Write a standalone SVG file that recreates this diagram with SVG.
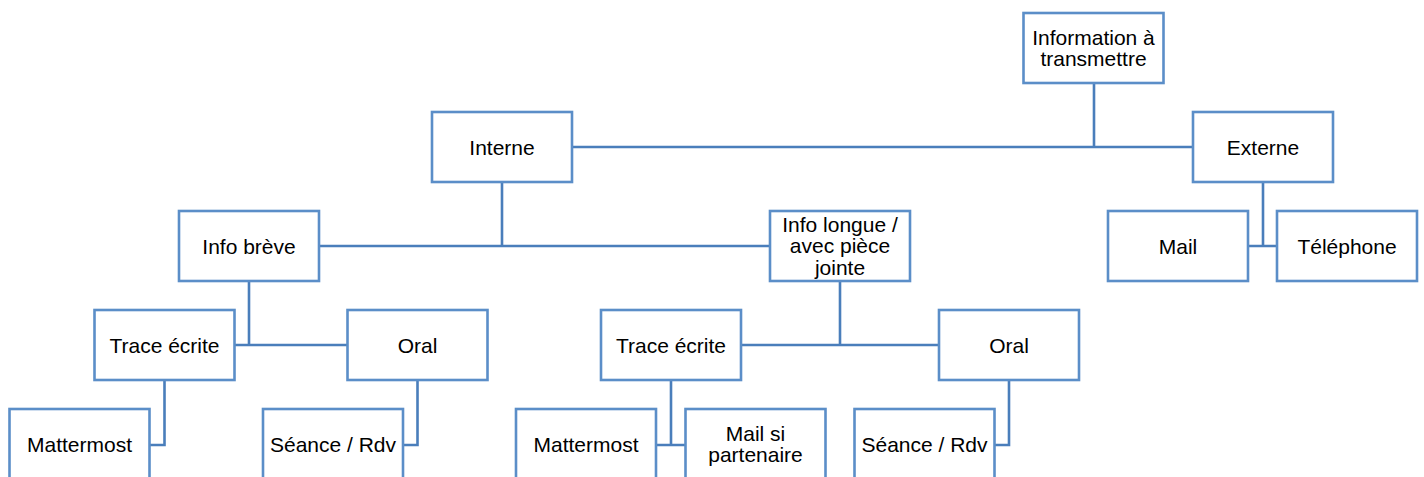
<svg xmlns="http://www.w3.org/2000/svg" width="1424" height="477" viewBox="0 0 1424 477">
<style>
.box rect{fill:#fff;stroke:#5B8EC8;stroke-width:2.6}
.box text{font-family:"Liberation Sans",Arial,sans-serif;font-size:21px;fill:#000;text-anchor:middle}
.conn path{fill:none;stroke:#4A7EBB;stroke-width:2.6}
</style>
<rect width="1424" height="477" fill="#fff"/>
<g class="conn">
<path d="M1094 83V147M572 147H1193"/>
<path d="M502 182V246M319 246H770"/>
<path d="M1263 182V246M1248 246H1277"/>
<path d="M249 281V345M234.5 345H347.5"/>
<path d="M840 281V345M741 345H939"/>
<path d="M164.5 380V445H149.5"/>
<path d="M417.5 380V445H403"/>
<path d="M671 380V445M656 445H685.5"/>
<path d="M1009 380V445H994.5"/>
</g>
<g id="info" class="box"><rect x="1023.5" y="13" width="140" height="70"/><text x="1093.5" y="44.5">Information à</text><text x="1093.5" y="66">transmettre</text></g>
<g id="interne" class="box"><rect x="432" y="112" width="140" height="70"/><text x="502" y="154.5">Interne</text></g>
<g id="externe" class="box"><rect x="1193" y="112" width="140" height="70"/><text x="1263" y="154.5">Externe</text></g>
<g id="breve" class="box"><rect x="179" y="211" width="140" height="70"/><text x="249" y="253.5">Info brève</text></g>
<g id="longue" class="box"><rect x="770" y="211" width="140" height="70"/><text x="840" y="231.5">Info longue /</text><text x="840" y="253">avec pièce</text><text x="840" y="274.5">jointe</text></g>
<g id="mail" class="box"><rect x="1108" y="211" width="140" height="70"/><text x="1178" y="253.5">Mail</text></g>
<g id="telephone" class="box"><rect x="1277" y="211" width="140" height="70"/><text x="1347" y="253.5">Téléphone</text></g>
<g id="trace1" class="box"><rect x="94.5" y="310" width="140" height="70"/><text x="164.5" y="352.5">Trace écrite</text></g>
<g id="oral1" class="box"><rect x="347.5" y="310" width="140" height="70"/><text x="417.5" y="352.5">Oral</text></g>
<g id="trace2" class="box"><rect x="601" y="310" width="140" height="70"/><text x="671" y="352.5">Trace écrite</text></g>
<g id="oral2" class="box"><rect x="939" y="310" width="140" height="70"/><text x="1009" y="352.5">Oral</text></g>
<g id="mattermost1" class="box"><rect x="9.5" y="409" width="140" height="70"/><text x="79.5" y="451.5">Mattermost</text></g>
<g id="seance1" class="box"><rect x="263" y="409" width="140" height="70"/><text x="333" y="451.5">Séance / Rdv</text></g>
<g id="mattermost2" class="box"><rect x="516" y="409" width="140" height="70"/><text x="586" y="451.5">Mattermost</text></g>
<g id="mailpart" class="box"><rect x="685.5" y="409" width="140" height="70"/><text x="755.5" y="440.5">Mail si</text><text x="755.5" y="462">partenaire</text></g>
<g id="seance2" class="box"><rect x="854.5" y="409" width="140" height="70"/><text x="924.5" y="451.5">Séance / Rdv</text></g>
</svg>
